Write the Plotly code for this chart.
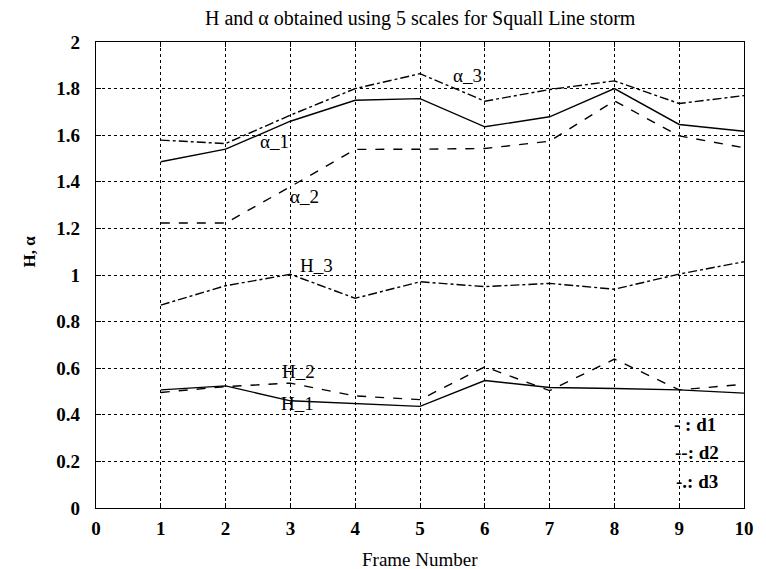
import plotly.graph_objects as go

frames = [1, 2, 3, 4, 5, 6, 7, 8, 9, 10]

alpha_1 = [1.486, 1.540, 1.660, 1.750, 1.757, 1.636, 1.679, 1.800, 1.646, 1.617]
alpha_2 = [1.223, 1.223, 1.379, 1.539, 1.540, 1.543, 1.574, 1.747, 1.597, 1.546]
alpha_3 = [1.579, 1.564, 1.686, 1.800, 1.864, 1.746, 1.796, 1.833, 1.736, 1.770]
H_1 = [0.507, 0.524, 0.460, 0.447, 0.436, 0.547, 0.517, 0.513, 0.507, 0.493]
H_2 = [0.496, 0.521, 0.536, 0.481, 0.465, 0.606, 0.504, 0.639, 0.507, 0.531]
H_3 = [0.871, 0.954, 1.003, 0.900, 0.971, 0.950, 0.964, 0.939, 1.004, 1.057]

x_ticks = [0, 1, 2, 3, 4, 5, 6, 7, 8, 9, 10]
y_ticks = [0, 0.2, 0.4, 0.6, 0.8, 1.0, 1.2, 1.4, 1.6, 1.8, 2.0]
y_tick_text = ["0", "0.2", "0.4", "0.6", "0.8", "1", "1.2", "1.4", "1.6", "1.8", "2"]

series = [
    ("α_1", alpha_1, "solid"),
    ("α_2", alpha_2, "dash"),
    ("α_3", alpha_3, "dashdot"),
    ("H_1", H_1, "solid"),
    ("H_2", H_2, "dash"),
    ("H_3", H_3, "dashdot"),
]

# label positions (data coords)
labels = [
    ("α_1", 2.76, 1.574),
    ("α_2", 3.21, 1.335),
    ("α_3", 5.74, 1.855),
    ("H_3", 3.40, 1.04),
    ("H_2", 3.12, 0.585),
    ("H_1", 3.11, 0.448),
]

legend_items = [
    ("- : d1", 9.24, 0.357),
    ("--: d2", 9.27, 0.237),
    ("-.: d3", 9.27, 0.113),
]

SERIF = "Liberation Serif"

fig = go.Figure()
for name, vals, dash in series:
    fig.add_trace(go.Scatter(
        x=frames, y=vals, mode="lines", name=name,
        line=dict(color="black", width=1.4, dash=dash),
        showlegend=False,
    ))

annotations = []
for txt, x, y in labels:
    annotations.append(dict(x=x, y=y, xref="x", yref="y", text=txt, showarrow=False,
                            xanchor="center", yanchor="middle",
                            font=dict(family=SERIF, size=19, color="black")))
for txt, x, y in legend_items:
    annotations.append(dict(x=x, y=y, xref="x", yref="y", text=txt, showarrow=False,
                            xanchor="center", yanchor="middle",
                            font=dict(family=SERIF, size=19, color="black", weight="bold")))

annotations.append(dict(x=0.5, y=1.051, xref="paper", yref="paper",
                        xanchor="center", yanchor="middle",
                        text="H and α obtained using 5 scales for Squall Line storm",
                        showarrow=False, font=dict(family=SERIF, size=20, color="black")))
annotations.append(dict(x=0.5, y=-0.111, xref="paper", yref="paper",
                        xanchor="center", yanchor="middle",
                        text="Frame Number", showarrow=False,
                        font=dict(family=SERIF, size=19, color="black")))
annotations.append(dict(x=-0.103, y=0.551, xref="paper", yref="paper",
                        xanchor="center", yanchor="middle",
                        text="<b>H, α</b>", showarrow=False, textangle=-90,
                        font=dict(family=SERIF, size=17, color="black")))

fig.update_layout(
    width=766, height=569,
    margin=dict(l=96, r=15, t=42, b=61),
    paper_bgcolor="white", plot_bgcolor="white",
    annotations=annotations,
    xaxis=dict(range=[0, 10], tickvals=x_ticks, ticktext=[str(v) for v in x_ticks],
               showline=True, linecolor="black", linewidth=1.2, mirror="allticks",
               ticks="inside", ticklen=5, tickcolor="black",
               showgrid=True, gridcolor="black", gridwidth=1, griddash="dot",
               zeroline=False, ticklabelstandoff=3,
               tickfont=dict(family=SERIF, size=19, color="black", weight="bold")),
    yaxis=dict(range=[0, 2], tickvals=y_ticks, ticktext=y_tick_text,
               showline=True, linecolor="black", linewidth=1.2, mirror="allticks",
               ticks="inside", ticklen=5, tickcolor="black",
               showgrid=True, gridcolor="black", gridwidth=1, griddash="dot",
               zeroline=False, ticklabelstandoff=11,
               tickfont=dict(family=SERIF, size=19, color="black", weight="bold")),
)

fig.write_html("out.html")
